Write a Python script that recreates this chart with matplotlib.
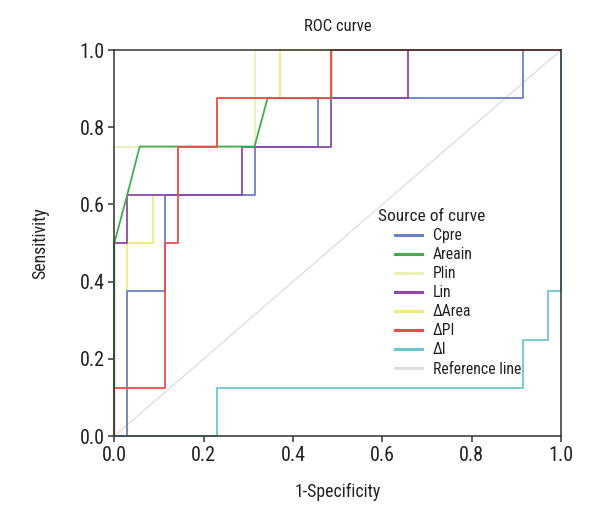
import matplotlib
matplotlib.use("Agg")
import matplotlib.pyplot as plt
from matplotlib.lines import Line2D
from matplotlib import font_manager as fm

# pick a narrow/condensed sans font if one is installed
_pref = ['liberationsansnarrow', 'robotocondensed', 'opensanscondensed', 'dejavusanscondensed',
         'notosanscondensed', 'narrow', 'condensed']
_cands = []
for f in fm.fontManager.ttflist:
    key = (f.fname.split('/')[-1]).lower().replace('-', '').replace('_', '')
    if ('narrow' in key or 'condensed' in key) and 'bold' not in key and 'italic' not in key \
            and 'oblique' not in key and 'light' not in key and 'semi' not in key and 'extra' not in key:
        _cands.append((key, f))
chosen = None
for p in _pref:
    for key, f in _cands:
        if p in key:
            chosen = f
            break
    if chosen:
        break
if chosen is not None:
    plt.rcParams['font.family'] = [chosen.name, 'DejaVu Sans']
    plt.rcParams['font.stretch'] = chosen.stretch
else:
    plt.rcParams['font.family'] = ['DejaVu Sans']

# ---- data (1-Specificity, Sensitivity) ----
cpre_x = [0, 0.029, 0.029, 0.114, 0.114, 0.314, 0.314, 0.457, 0.457, 0.914, 0.914, 1]
cpre_y = [0, 0, 0.375, 0.375, 0.625, 0.625, 0.75, 0.75, 0.875, 0.875, 1, 1]

areain_x = [0, 0, 0.029, 0.057, 0.314, 0.343, 0.486, 0.486, 1]
areain_y = [0, 0.5, 0.625, 0.75, 0.75, 0.875, 0.875, 1, 1]

plin_x = [0, 0, 0.314, 0.314, 1]
plin_y = [0, 0.75, 0.75, 1, 1]

lin_x = [0, 0, 0.029, 0.029, 0.286, 0.286, 0.486, 0.486, 0.657, 0.657, 1]
lin_y = [0, 0.5, 0.5, 0.625, 0.625, 0.75, 0.75, 0.875, 0.875, 1, 1]

darea_x = [0, 0.029, 0.029, 0.086, 0.086, 0.143, 0.143, 0.229, 0.229, 0.371, 0.371, 1]
darea_y = [0, 0, 0.5, 0.5, 0.625, 0.625, 0.75, 0.75, 0.875, 0.875, 1, 1]

dpi_x = [0, 0, 0.114, 0.114, 0.143, 0.143, 0.229, 0.229, 0.486, 0.486, 1]
dpi_y = [0, 0.125, 0.125, 0.5, 0.5, 0.75, 0.75, 0.875, 0.875, 1, 1]

di_x = [0, 0.229, 0.229, 0.914, 0.914, 0.971, 0.971, 1, 1]
di_y = [0, 0, 0.125, 0.125, 0.25, 0.25, 0.375, 0.375, 1]

ref_x = [0, 1]
ref_y = [0, 1]

labels = ["Cpre", "Areain", "Plin", "Lin", "\u0394Area", "\u0394PI", "\u0394I", "Reference line"]
colors = ["#6a80c8", "#3fae4f", "#eeeebb", "#8e48a8", "#f2ea78", "#ee4c4c", "#6cc6cf", "#dddddd"]
ticks = [0.0, 0.2, 0.4, 0.6, 0.8, 1.0]
tick_labels = ["0.0", "0.2", "0.4", "0.6", "0.8", "1.0"]

series = [
    (cpre_x, cpre_y, 0, 4),
    (areain_x, areain_y, 1, 6),
    (plin_x, plin_y, 2, 2),
    (lin_x, lin_y, 3, 5),
    (darea_x, darea_y, 4, 3),
    (dpi_x, dpi_y, 5, 7),
    (di_x, di_y, 6, 8),
]

fig = plt.figure(figsize=(6.0, 5.2), dpi=100)
ax = fig.add_axes([0.1905, 0.1615, 0.7445, 0.7423])

ax.plot(ref_x, ref_y, color=colors[7], lw=0.9, zorder=1, clip_on=False)
for xs, ys, ci, z in series:
    ax.plot(xs, ys, color=colors[ci], lw=1.3, zorder=z, clip_on=False)

ax.set_xlim(0, 1)
ax.set_ylim(0, 1)
ax.set_xticks(ticks)
ax.set_xticklabels(tick_labels)
ax.set_yticks(ticks)
ax.set_yticklabels(tick_labels)
ax.tick_params(axis='both', direction='out', length=4, width=1.1, color='#333333',
               labelsize=14.5, pad=3, labelcolor='#222222')
for sp in ax.spines.values():
    sp.set_color('#333333')
    sp.set_linewidth(1.1)
    sp.set_zorder(10)

ax.set_title("ROC curve", fontsize=12, pad=14, color='#222222')
ax.set_xlabel("1-Specificity", fontsize=12.8, color='#222222')
ax.set_ylabel("Sensitivity", fontsize=12.8, color='#222222')
ax.xaxis.set_label_coords(0.5, -0.122)
ax.yaxis.set_label_coords(-0.145, 0.5)

# legend
handles = [Line2D([], [], color=c, lw=2.2) for c in colors]
fig.text(378 / 600, 1 - 209 / 520, "Source of curve", fontsize=12.5, color='#222222',
         ha='left', va='top')
leg = ax.legend(handles, labels, loc='upper left', bbox_to_anchor=(395 / 600, 1 - 228 / 520),
                bbox_transform=fig.transFigure, frameon=False, fontsize=11.3,
                handlelength=1.75, handletextpad=0.68, labelspacing=0.26, borderpad=0,
                borderaxespad=0)
for t in leg.get_texts():
    t.set_color('#222222')

fig.savefig("out.png", dpi=100)
